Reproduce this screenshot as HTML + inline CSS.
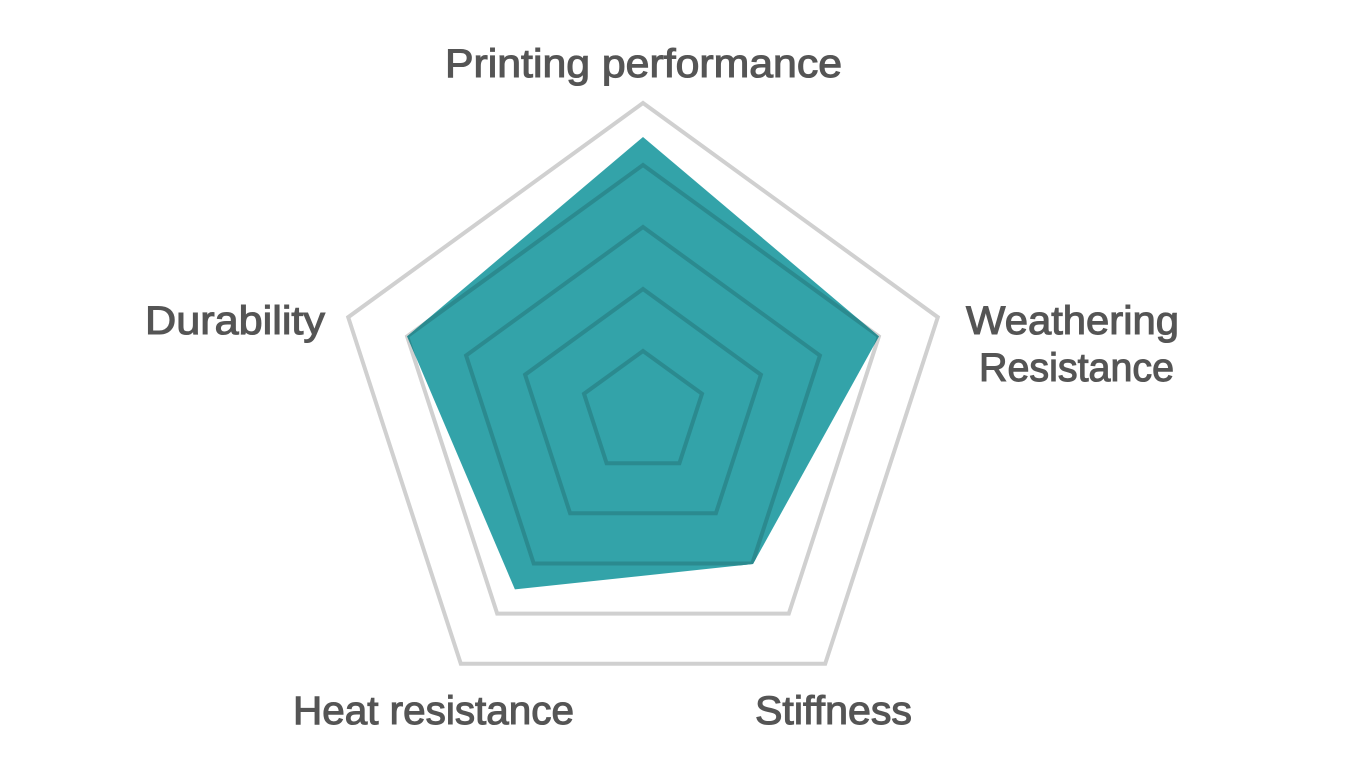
<!DOCTYPE html>
<html><head><meta charset="utf-8"><style>html,body{margin:0;padding:0;background:#fff}svg{display:block}</style></head>
<body>
<svg width="1350" height="775" viewBox="0 0 1350 775" xmlns="http://www.w3.org/2000/svg">
<defs><clipPath id="c"><polygon points="643,137 878.9,336.4 753,564 514.9,589.4 407.1,336.4"/></clipPath></defs>
<g fill="none" stroke="#d0d0d0" stroke-width="4" stroke-linejoin="miter">
<polygon points="643,103 937.8,317.2 825.2,663.8 460.8,663.8 348.2,317.2"/>
<polygon points="643,165 878.9,336.4 788.8,613.6 497.2,613.6 407.1,336.4"/>
</g>
<polygon points="643,137 878.9,336.4 753,564 514.9,589.4 407.1,336.4" fill="#33a3a9"/>
<g fill="none" stroke="#2b8a8f" stroke-width="4" clip-path="url(#c)">
<polygon points="643,165 878.9,336.4 788.8,613.6 497.2,613.6 407.1,336.4"/>
<polygon points="643,227 819.9,355.5 752.3,563.5 533.7,563.5 466.1,355.5"/>
<polygon points="643,289 760.9,374.7 715.9,513.3 570.1,513.3 525.1,374.7"/>
<polygon points="643,351 702,393.8 679.4,463.2 606.6,463.2 584,393.8"/>
</g>
<g font-family="'Liberation Sans', sans-serif" font-size="40" fill="#555" stroke="#555" stroke-width="1.1">
<text x="445" y="77" textLength="397" lengthAdjust="spacingAndGlyphs">Printing performance</text>
<text x="145" y="334" textLength="180" lengthAdjust="spacingAndGlyphs">Durability</text>
<text x="966" y="334" textLength="213" lengthAdjust="spacingAndGlyphs">Weathering</text>
<text x="979" y="381" textLength="195" lengthAdjust="spacingAndGlyphs">Resistance</text>
<text x="293" y="724" textLength="281" lengthAdjust="spacingAndGlyphs">Heat resistance</text>
<text x="755" y="724" textLength="157" lengthAdjust="spacingAndGlyphs">Stiffness</text>
</g>
</svg>
</body></html>
